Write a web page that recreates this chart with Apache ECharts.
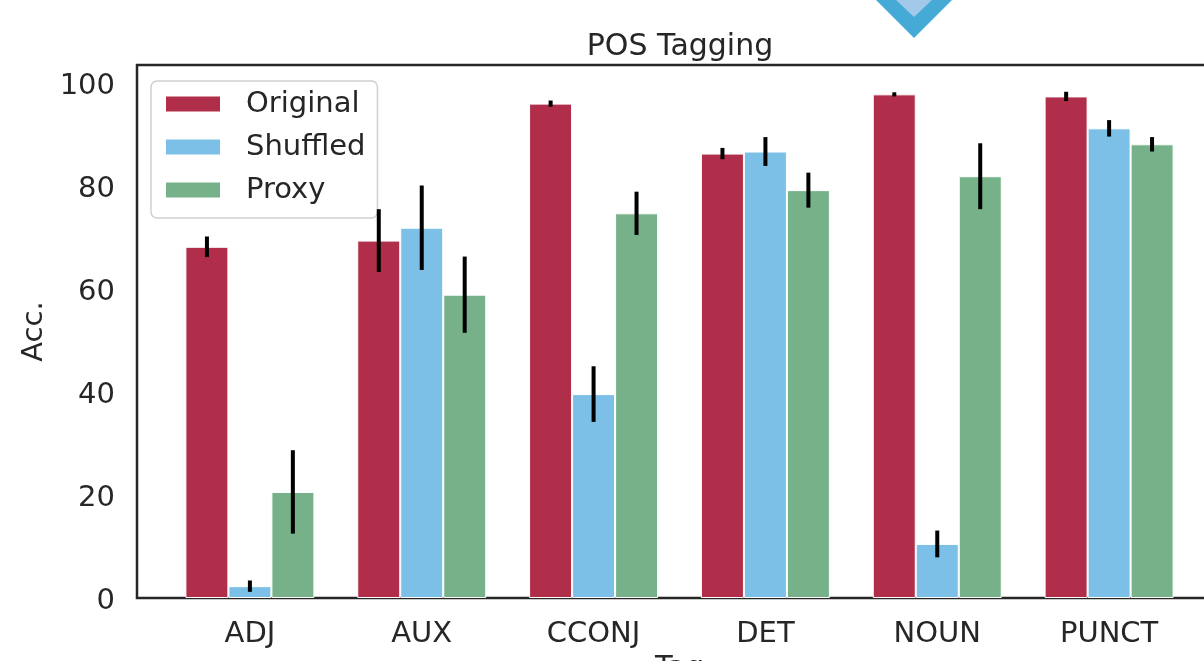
<!DOCTYPE html>
<html>
<head>
<meta charset="utf-8">
<script src="https://cdn.jsdelivr.net/npm/echarts@6/dist/echarts.min.js"></script>
<style>
html,body{margin:0;padding:0;background:#fff;}
#chart{width:1204px;height:661px;}
</style>
</head>
<body>
<div id="chart"></div>
<script>
const categories = ['ADJ', 'AUX', 'CCONJ', 'DET', 'NOUN', 'PUNCT'];
const seriesNames = ['Original', 'Shuffled', 'Proxy'];
const original = [68.2, 69.4, 96.0, 86.3, 97.8, 97.4];
const originalErr = [2.0, 6.1, 0.6, 1.1, 0.4, 0.9];
const shuffled = [2.3, 71.9, 39.6, 86.7, 10.5, 91.2];
const shuffledErr = [1.1, 8.2, 5.4, 2.8, 2.6, 1.6];
const proxy = [20.6, 58.9, 74.7, 79.2, 81.9, 88.1];
const proxyErr = [8.1, 7.4, 4.2, 3.4, 6.4, 1.4];
const yTicks = [0, 20, 40, 60, 80, 100];

const colors = ['#B02E49', '#7CC0E7', '#76B189'];
const FONT = 'DejaVu Sans';
const TXT = '#262626';

const values = [original, shuffled, proxy];
const errs = [originalErr, shuffledErr, proxyErr];
const offsets = [-0.25, 0, 0.25];

const barSeries = seriesNames.map((name, s) => ({
  name: name,
  type: 'bar',
  barWidth: 43,
  barGap: '0%',
  data: categories.map((c, i) => [i, values[s][i]]),
  itemStyle: { color: colors[s], borderColor: '#ffffff', borderWidth: 1 },
  emphasis: { disabled: true },
  z: 2
}));

const errData = [];
values.forEach((arr, s) => {
  arr.forEach((v, i) => errData.push([i, v, errs[s][i], offsets[s]]));
});

const errSeries = {
  type: 'custom',
  data: errData,
  encode: { x: 0, y: 1 },
  z: 5,
  silent: true,
  renderItem: function (params, api) {
    const x = api.value(0) + api.value(3);
    const v = api.value(1), e = api.value(2);
    const lo = api.coord([x, v - e]);
    const hi = api.coord([x, v + e]);
    return {
      type: 'line',
      shape: { x1: lo[0], y1: lo[1], x2: hi[0], y2: hi[1] },
      style: { stroke: '#000000', lineWidth: 4 }
    };
  }
};

const chart = echarts.init(document.getElementById('chart'), null, { renderer: 'canvas' });
chart.setOption({
  backgroundColor: '#ffffff',
  animation: false,
  textStyle: { fontFamily: FONT, color: TXT },
  title: {
    text: 'POS Tagging',
    left: 680,
    textAlign: 'center',
    top: 32,
    padding: 0,
    textStyle: { fontFamily: FONT, fontSize: 30, fontWeight: 'normal', color: TXT }
  },
  legend: {
    data: seriesNames,
    orient: 'vertical',
    left: 151,
    top: 81,
    itemWidth: 56,
    itemHeight: 17,
    itemGap: 9,
    icon: 'rect',
    padding: [6, 12, 11, 13],
    borderColor: '#cfcfcf',
    borderWidth: 1.5,
    borderRadius: 6,
    backgroundColor: 'rgba(255,255,255,0.85)',
    textStyle: { fontFamily: FONT, fontSize: 29, color: TXT, lineHeight: 34, padding: [0, 0, 0, 20] }
  },
  grid: {
    left: 137,
    top: 65,
    width: 1085,
    height: 533,
    containLabel: false,
    outerBoundsMode: 'none',
    show: true,
    borderColor: '#262626',
    borderWidth: 2.5,
    backgroundColor: 'transparent'
  },
  xAxis: {
    type: 'value',
    min: -0.657,
    max: 5.657,
    name: 'Tag',
    nameLocation: 'middle',
    nameGap: 56,
    nameTextStyle: { fontFamily: FONT, fontSize: 29, color: TXT },
    axisLine: { show: false },
    axisTick: { show: false },
    splitLine: { show: false },
    axisLabel: {
      customValues: categories.map((c, i) => i),
      formatter: v => categories[Math.round(v)] || '',
      fontFamily: FONT, fontSize: 29, color: TXT, margin: 22
    }
  },
  yAxis: {
    type: 'value',
    min: 0,
    max: 103.5,
    name: 'Acc.',
    nameLocation: 'middle',
    nameGap: 77,
    nameTextStyle: { fontFamily: FONT, fontSize: 29, color: TXT },
    axisLine: { show: false },
    axisTick: { show: false },
    splitLine: { show: false },
    axisLabel: {
      customValues: yTicks,
      formatter: v => '{t|' + v + '}',
      rich: { t: { fontFamily: FONT, fontSize: 29, color: TXT, padding: [7, 0, 0, 0] } },
      fontFamily: FONT, fontSize: 29, color: TXT, margin: 22
    }
  },
  graphic: [
    {
      type: 'polygon',
      shape: { points: [[873, -3], [914, 38], [955, -3]] },
      style: { fill: '#45AAD6' },
      z: 100
    },
    {
      type: 'polygon',
      shape: { points: [[895, -1], [914, 17], [933, -1]] },
      style: { fill: '#A2C8EA' },
      z: 101
    }
  ],
  series: barSeries.concat([errSeries])
});
</script>
</body>
</html>
